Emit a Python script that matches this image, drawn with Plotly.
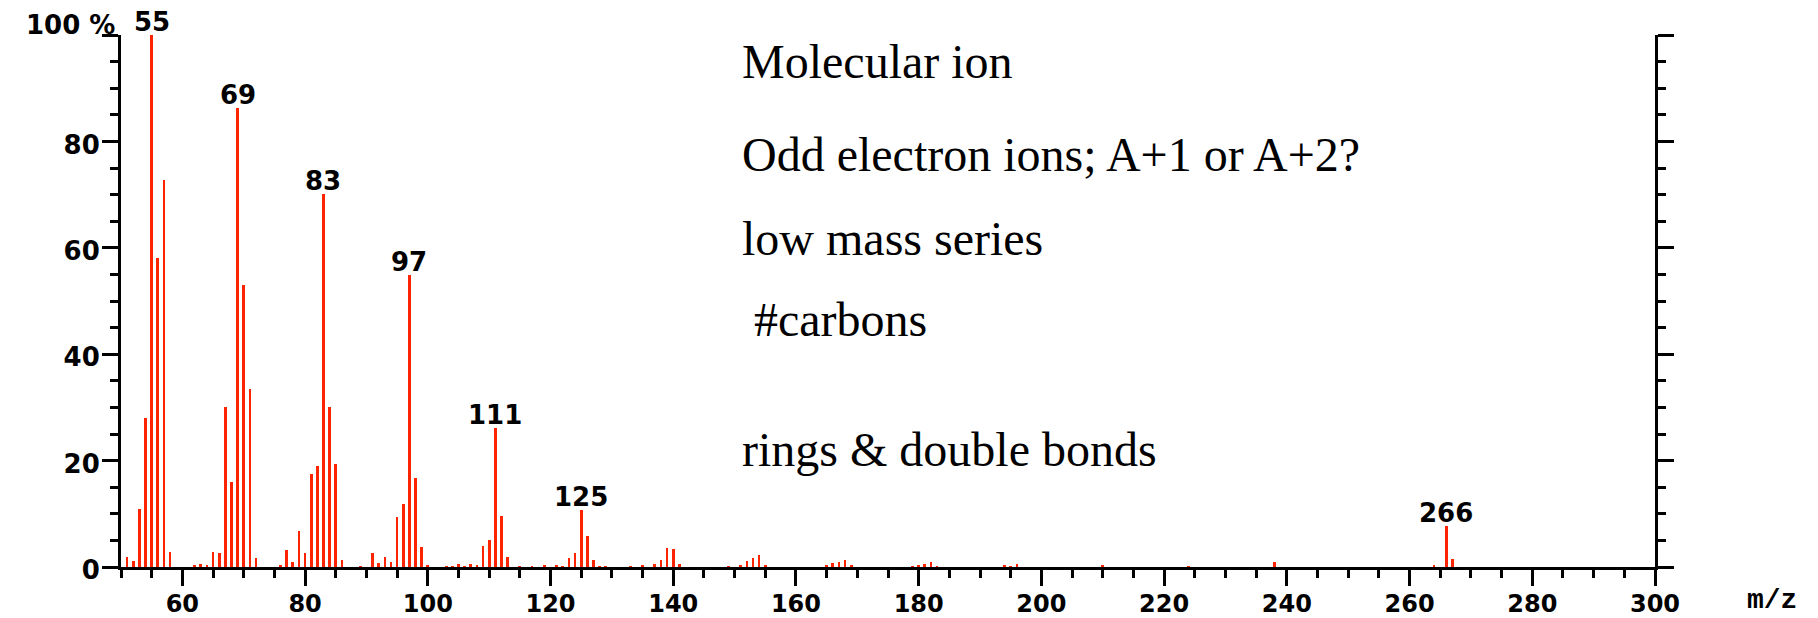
import plotly.graph_objects as go

# EI mass spectrum: m/z and relative intensity (%)
mz = [51, 52, 53, 54, 55, 56, 57, 58, 62, 63, 64, 65, 66, 67, 68, 69, 70, 71, 72,
      76, 77, 78, 79, 80, 81, 82, 83, 84, 85, 86, 89, 91, 92, 93, 94, 95, 96, 97,
      98, 99, 100, 103, 104, 105, 106, 107, 108, 109, 110, 111, 112, 113, 115, 117,
      119, 121, 122, 123, 124, 125, 126, 127, 128, 129, 133, 135, 137, 138, 139,
      140, 141, 149, 151, 152, 153, 154, 155, 165, 166, 167, 168, 169, 179, 180,
      181, 182, 183, 194, 195, 196, 210, 224, 238, 264, 266, 267]
intensity = [1.8, 1.2, 10.9, 28.0, 100.0, 58.1, 72.7, 2.8, 0.2, 0.5, 0.2, 2.9, 2.7,
             30.1, 16.0, 86.2, 53.1, 33.4, 1.7, 0.2, 3.2, 0.9, 6.7, 2.6, 17.5, 19.0,
             70.1, 30.1, 19.4, 1.3, 0.1, 2.7, 0.7, 1.8, 1.0, 9.4, 11.8, 54.8, 16.7,
             3.8, 0.2, 0.1, 0.1, 0.5, 0.15, 0.6, 0.3, 3.9, 5.0, 26.2, 9.5, 1.9, 0.15,
             0.1, 0.3, 0.25, 0.1, 1.6, 2.6, 10.8, 5.8, 1.25, 0.1, 0.1, 0.1, 0.25, 0.6,
             1.4, 3.5, 3.4, 0.6, 0.1, 0.25, 1.1, 1.6, 2.3, 0.4, 0.3, 0.8, 0.9, 1.25,
             0.2, 0.1, 0.3, 0.5, 1.0, 0.1, 0.25, 0.1, 0.6, 0.2, 0.1, 0.95, 0.4, 7.8,
             1.5]

labelled_peaks = [55, 69, 83, 97, 111, 125, 266]

x_ticks = list(range(60, 301, 20))
y_ticks = [0, 20, 40, 60, 80, 100]
y_tick_text = ["0", "20", "40", "60", "80", ""]
y_top_label = "100 %"

notes = ["Molecular ion", "Odd electron ions; A+1 or A+2?", "low mass series",
         "#carbons", "rings & double bonds"]

W, H = 1818, 618
M_L, M_R, M_T, M_B = 121, 163, 35, 51
plot_w = W - M_L - M_R
plot_h = H - M_T - M_B

BAR = "#ff2400"
tick_font = dict(family="DejaVu Sans", size=26, color="black", weight="bold")
x_tick_font = dict(family="DejaVu Sans", size=24, color="black", weight="bold")

fig = go.Figure()
fig.add_trace(go.Bar(x=mz, y=intensity, width=0.44, marker=dict(color=BAR, line=dict(width=0)),
                     showlegend=False, hoverinfo="x+y"))
# invisible trace to activate the right-hand intensity axis
fig.add_trace(go.Scatter(x=[mz[0]], y=[0], yaxis="y2", mode="markers",
                         marker=dict(opacity=0), showlegend=False, hoverinfo="skip"))

axis_common = dict(showline=True, linecolor="black", linewidth=3, showgrid=False,
                   zeroline=False, ticks="outside", tickcolor="black", tickwidth=3,
                   ticklen=16, automargin=False)
minor_y = dict(dtick=5, tick0=0, ticks="outside", ticklen=8, tickcolor="black", tickwidth=3)

fig.update_layout(
    width=W, height=H,
    margin=dict(l=M_L, r=M_R, t=M_T, b=M_B, pad=0, autoexpand=False),
    paper_bgcolor="white", plot_bgcolor="white",
    bargap=0,
    xaxis=dict(range=[50, 300], tickvals=x_ticks, tickfont=x_tick_font,
               ticklabelstandoff=-3,
               minor=dict(dtick=5, tick0=50, ticks="outside", ticklen=8,
                          tickcolor="black", tickwidth=3),
               **axis_common),
    yaxis=dict(range=[0, 100], tickvals=y_ticks, ticktext=y_tick_text, tickfont=tick_font,
               ticklabelstandoff=-3, ticklabelshift=3, minor=minor_y, **axis_common),
    yaxis2=dict(range=[0, 100], overlaying="y", side="right", anchor="x",
                tickvals=y_ticks, showticklabels=False, minor=minor_y, **axis_common),
)

annotations = []
# top of the intensity scale
annotations.append(dict(x=0, y=100, xref="paper", yref="y", text=y_top_label,
                        showarrow=False, xanchor="right", yanchor="middle",
                        xshift=-4, yshift=10, font=tick_font))

# peak labels (m/z) above the labelled bars
for p in labelled_peaks:
    i = mz.index(p)
    annotations.append(dict(x=mz[i], y=intensity[i], xref="x", yref="y", text=str(mz[i]),
                            showarrow=False, xanchor="center", yanchor="bottom", yshift=-4,
                            font=tick_font))

# interpretation notes (baseline positions in px from top)
note_left = [740, 740, 740, 752, 740]
note_base = [79, 172, 256, 337, 467]
for txt, xl, yb in zip(notes, note_left, note_base):
    annotations.append(dict(x=(xl - M_L) / plot_w, y=(H - M_B - (yb + 11)) / plot_h,
                            xref="paper", yref="paper", text=txt, showarrow=False,
                            xanchor="left", yanchor="bottom",
                            font=dict(family="Liberation Serif", size=48, color="black")))

# x-axis unit label
annotations.append(dict(x=(1772 - M_L) / plot_w, y=(H - M_B - 600) / plot_h,
                        xref="paper", yref="paper", text="m/z", showarrow=False,
                        xanchor="center", yanchor="middle",
                        font=dict(family="Liberation Mono", size=28, color="black",
                                  weight="bold")))

fig.update_layout(annotations=annotations)
fig.write_html("out.html")
